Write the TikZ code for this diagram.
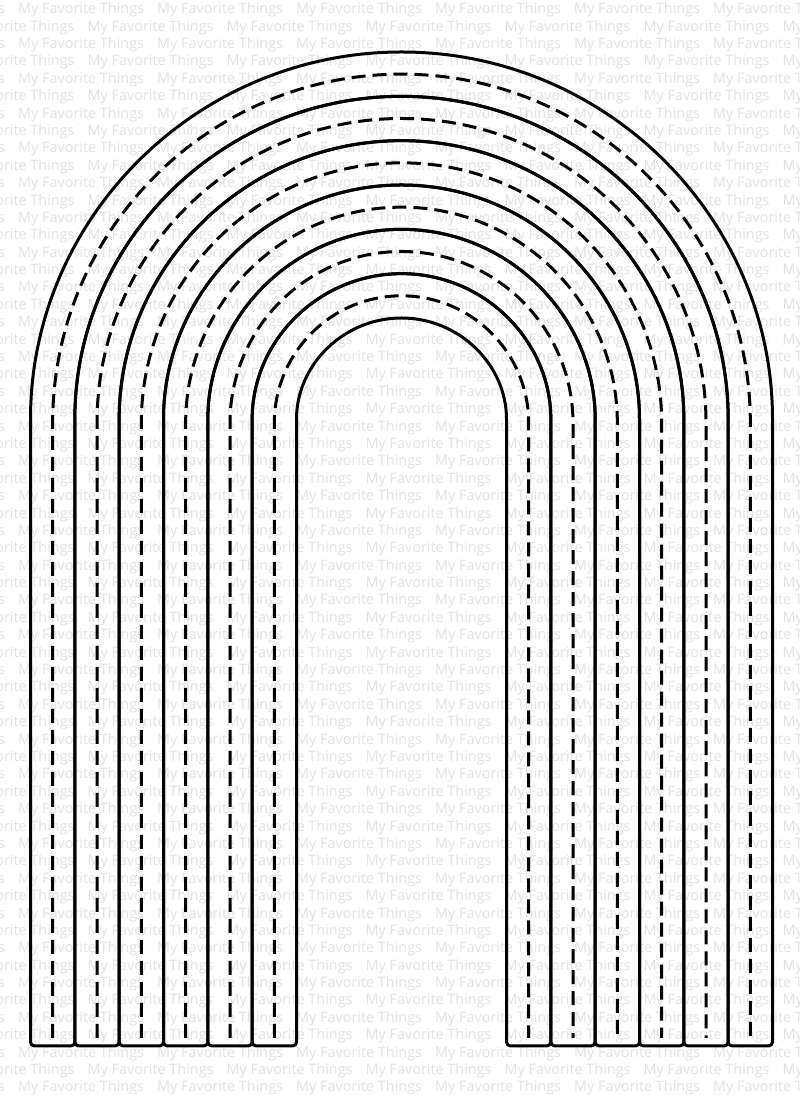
\documentclass[tikz,border=0pt]{standalone}
\usepackage{fontspec}
\setsansfont{Open Sans}
\begin{document}
\begin{tikzpicture}[x=1pt,y=1pt,
  wm/.style={text=black!11, font=\sffamily\fontsize{14.4}{16}\selectfont, inner sep=0pt, anchor=west},
  solidline/.style={line width=3pt, line join=round, rounded corners=4pt},
  dashline/.style={line width=3pt, dash pattern=on 14pt off 7pt}]
\useasboundingbox (0,0) rectangle (800,1095);
\fill[white] (0,0) rectangle (800,1095);
% watermark
\foreach \j in {0,...,62} {
  \pgfmathsetmacro\yy{1095-10-17.39*\j}
  \pgfmathsetmacro\xo{mod(\j,2)*69.5}
  \foreach \i in {-1,...,5} {
    \node[wm] (wm-\j-\i) at ({18+\xo+139*\i}, \yy) {My Favorite Things};
  }
}
\def\cx{401.5}
\def\cy{672}
\def\yb{49}
\def\yd{57}
% solid bands
\foreach \k in {0,...,5} {
  \pgfmathsetmacro\RR{371-44.333*\k}
  \pgfmathsetmacro\rr{371-44.333*(\k+1)}
  \draw[solidline] ({\cx+\rr},\yb) -- ({\cx+\RR},\yb) -- ({\cx+\RR},\cy) arc (0:180:\RR)
    -- ({\cx-\RR},\yb) -- ({\cx-\rr},\yb) -- ({\cx-\rr},\cy) arc (180:0:\rr) -- cycle;
}
% dashed centre lines
\foreach \k in {0,...,5} {
  \pgfmathsetmacro\mm{371-44.333*(\k+0.5)}
  \draw[dashline] ({\cx-\mm},\yd) -- ({\cx-\mm},\cy) arc (180:0:\mm) -- ({\cx+\mm},\yd);
}
\end{tikzpicture}
\end{document}
